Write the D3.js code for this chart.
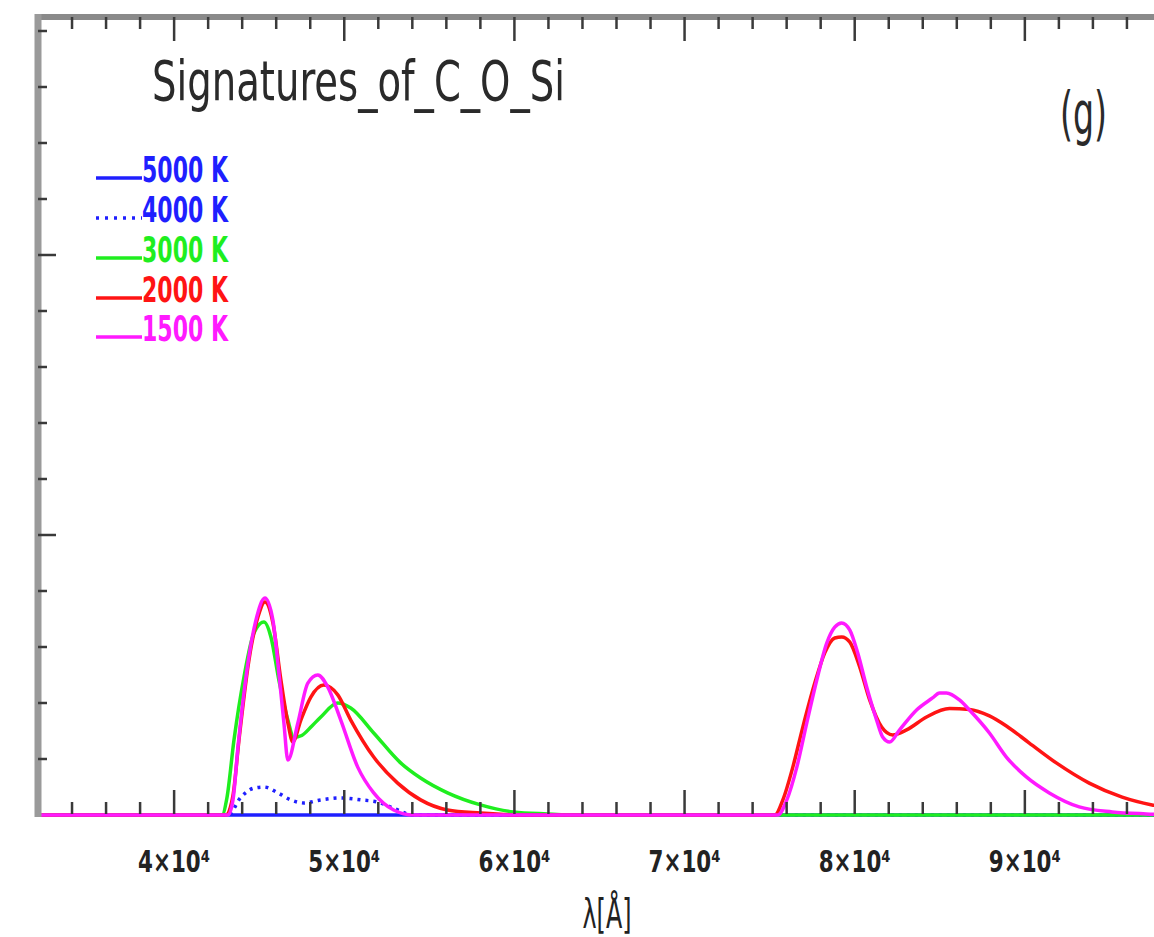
<!DOCTYPE html>
<html>
<head>
<meta charset="utf-8">
<script src="https://cdn.jsdelivr.net/npm/d3@7"></script>
<style>
  html, body { margin: 0; padding: 0; background: #fff; overflow: hidden; }
  svg { display: block; }
  text { font-family: "Liberation Sans Narrow", "DejaVu Sans Condensed", "Liberation Sans", sans-serif; }
</style>
</head>
<body>
<svg id="chart" width="1154" height="937"></svg>
<script>
// ---- data (wavelength in Å, flux in arbitrary units) ----
const wl5000 = [32000, 100000];
const fx5000 = [0, 0];

const wl4000 = [32000, 43167, 43930, 44692, 45279, 46100, 46862, 47625, 48622, 49794, 50967, 51964, 53020, 54017, 100000];
const fx4000 = [0, 0, 0.064, 0.096, 0.100, 0.079, 0.054, 0.043, 0.054, 0.061, 0.054, 0.046, 0.021, 0, 0];

const wl3000 = [32000, 42815, 43100, 43519, 44105, 44692, 45279, 45689, 46158, 46686, 47038, 47500, 48100, 48622, 49619, 50381, 51730, 53314, 54487, 56070, 58006, 59941, 61935, 63871, 100000];
const fx3000 = [0, 0, 0.06, 0.268, 0.493, 0.650, 0.689, 0.636, 0.482, 0.339, 0.277, 0.284, 0.318, 0.350, 0.400, 0.382, 0.293, 0.186, 0.132, 0.079, 0.036, 0.011, 0.004, 0, 0];

const wl2000 = [32000, 43050, 43460, 43812, 44399, 44927, 45337, 45806, 46276, 46686, 46979, 47449, 48035, 48798, 49619, 50381, 51730, 53138, 54487, 56070, 58006, 60352,
                75307, 75777, 76363, 76950, 77653, 78240, 78826, 79237, 79706, 80293, 80879, 81583, 82228, 83049, 84222, 85571, 86744, 87917, 88914, 90263, 91847, 93782, 95718, 97477, 100000];
const fx2000 = [0, 0, 0.07, 0.268, 0.554, 0.707, 0.761, 0.686, 0.482, 0.329, 0.261, 0.339, 0.421, 0.464, 0.429, 0.339, 0.207, 0.114, 0.054, 0.018, 0.007, 0,
                0, 0.054, 0.171, 0.314, 0.471, 0.579, 0.632, 0.636, 0.618, 0.529, 0.411, 0.314, 0.286, 0.304, 0.350, 0.380, 0.377, 0.354, 0.318, 0.257, 0.186, 0.114, 0.064, 0.036, 0.016];

const wl1500 = [32000, 43167, 43460, 43754, 44340, 44809, 45337, 45806, 46158, 46452, 46686, 47273, 47859, 48445, 49032, 49794, 50791, 51730, 52903, 54076,
                75483, 76011, 76598, 77184, 77771, 78357, 78826, 79237, 79706, 80175, 80703, 81290, 81642, 82052, 82639, 83636, 84574, 84985, 85395, 86158, 86744, 87917, 88914, 90087, 91436, 93196, 95131, 97125, 100000];
const fx1500 = [0, 0, 0.054, 0.243, 0.543, 0.696, 0.775, 0.696, 0.507, 0.329, 0.196, 0.329, 0.471, 0.500, 0.457, 0.339, 0.171, 0.079, 0.018, 0,
                0, 0.054, 0.171, 0.329, 0.482, 0.614, 0.671, 0.686, 0.661, 0.579, 0.457, 0.339, 0.279, 0.261, 0.304, 0.375, 0.418, 0.436, 0.436, 0.411, 0.375, 0.293, 0.207, 0.136, 0.079, 0.029, 0.011, 0.004, 0];

const seriesNames = ["5000 K", "4000 K", "3000 K", "2000 K", "1500 K"];
const seriesColors = ["#1f1fff", "#1f1fff", "#1fee1f", "#ff1414", "#ff1aff"];
const seriesDash = [null, "3,5", null, null, null];
const seriesWl = [wl5000, wl4000, wl3000, wl2000, wl1500];
const seriesFx = [fx5000, fx4000, fx3000, fx2000, fx1500];

const xTickValues = [40000, 50000, 60000, 70000, 80000, 90000];
const xTickLabels = ["4×10⁴", "5×10⁴", "6×10⁴", "7×10⁴", "8×10⁴", "9×10⁴"];
const chartTitle = "Signatures_of_C_O_Si";
const panelLabel = "(g)";
const xAxisLabel = "λ[Å]";

// ---- layout ----
const svg = d3.select("#chart");
const pLeft = 38, pRight = 1195, pTop = 17, pBottom = 815;
const x = d3.scaleLinear().domain([32000, 100000]).range([pLeft, pRight]);
const y = d3.scaleLinear().domain([0, 2.85]).range([pBottom, pTop]);

const minorX = d3.range(34000, 100001, 2000);
const minorY = d3.range(0.2, 2.85, 0.2).map(v => +v.toFixed(2));
const isMajorX = v => v % 10000 === 0;
const isMajorY = v => Math.abs(v - Math.round(v)) < 1e-6;

// curves
const line = d3.line().x(d => x(d[0])).y(d => y(d[1])).curve(d3.curveMonotoneX);
const gCurves = svg.append("g");
seriesNames.forEach((name, i) => {
  const pts = seriesWl[i].map((w, j) => [w, seriesFx[i][j]]);
  gCurves.append("path")
    .attr("d", line(pts))
    .attr("fill", "none")
    .attr("stroke", seriesColors[i])
    .attr("stroke-width", 3.5)
    .attr("stroke-linejoin", "round")
    .attr("stroke-dasharray", seriesDash[i]);
});

// frame
const gFrame = svg.append("g");
gFrame.append("line").attr("x1", pLeft - 3).attr("x2", 1154).attr("y1", pTop).attr("y2", pTop)
  .attr("stroke", "#8a8a8a").attr("stroke-width", 6);
gFrame.append("line").attr("x1", pLeft).attr("x2", pLeft).attr("y1", pTop - 3).attr("y2", pBottom + 2)
  .attr("stroke", "#9a9a9a").attr("stroke-width", 7);

// x ticks (top: down, bottom: up)
const gTicks = svg.append("g").attr("stroke", "#3a3a3a").attr("stroke-width", 2.5);
minorX.forEach(v => {
  const len = isMajorX(v) ? 24 : 12;
  gTicks.append("line").attr("x1", x(v)).attr("x2", x(v)).attr("y1", pTop).attr("y2", pTop + len);
  gTicks.append("line").attr("x1", x(v)).attr("x2", x(v)).attr("y1", pBottom - 1).attr("y2", pBottom - 1 - len);
});
// y ticks
minorY.forEach(v => {
  const len = isMajorY(v) ? 18 : 9;
  gTicks.append("line").attr("x1", pLeft).attr("x2", pLeft + len).attr("y1", y(v)).attr("y2", y(v));
});

// x tick labels
const gLab = svg.append("g").attr("fill", "#222").attr("font-weight", "bold");
xTickValues.forEach((v, i) => {
  gLab.append("text")
    .attr("x", x(v)).attr("y", 872)
    .attr("text-anchor", "middle")
    .attr("font-size", 30)
    .attr("textLength", 72).attr("lengthAdjust", "spacingAndGlyphs")
    .text(xTickLabels[i]);
});

// axis label
svg.append("text").attr("x", 607).attr("y", 928).attr("text-anchor", "middle")
  .attr("font-size", 40).attr("fill", "#222")
  .attr("textLength", 49).attr("lengthAdjust", "spacingAndGlyphs")
  .text(xAxisLabel);

// title and panel label
svg.append("text").attr("x", 152).attr("y", 100)
  .attr("font-size", 56).attr("fill", "#2a2a2a")
  .attr("textLength", 413).attr("lengthAdjust", "spacingAndGlyphs")
  .text(chartTitle);
svg.append("text").attr("x", 1060).attr("y", 134)
  .attr("font-size", 58).attr("fill", "#2a2a2a")
  .attr("textLength", 47).attr("lengthAdjust", "spacingAndGlyphs")
  .text(panelLabel);

// legend
const legendY = [178, 218, 258, 298, 337];
const gLeg = svg.append("g");
seriesNames.forEach((name, i) => {
  gLeg.append("line").attr("x1", 96).attr("x2", 142)
    .attr("y1", legendY[i]).attr("y2", legendY[i])
    .attr("stroke", seriesColors[i]).attr("stroke-width", 3.5)
    .attr("stroke-dasharray", seriesDash[i] ? "3,6" : null);
  gLeg.append("text").attr("x", 142).attr("y", legendY[i] + 4)
    .attr("font-size", 36).attr("font-weight", "bold").attr("fill", seriesColors[i])
    .attr("textLength", 86).attr("lengthAdjust", "spacingAndGlyphs")
    .text(name);
});
</script>
</body>
</html>
